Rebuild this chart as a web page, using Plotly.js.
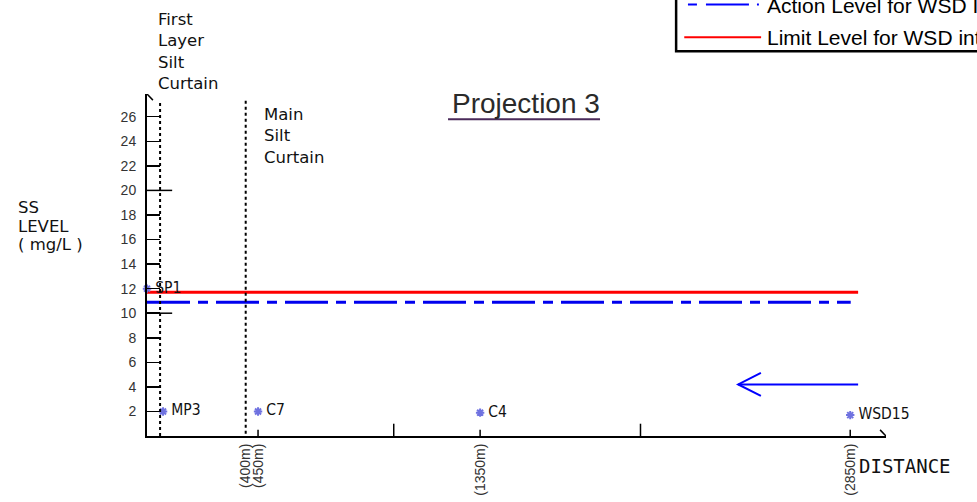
<!DOCTYPE html>
<html>
<head>
<meta charset="utf-8">
<script src="https://cdn.plot.ly/plotly-3.0.1.min.js"></script>
<style>html,body{margin:0;padding:0;background:#fff;}#chart{width:977px;height:502px;}</style>
</head>
<body>
<div id="chart"></div>
<script>
// ---- data ----
const stations = ['SP1', 'MP3', 'C7', 'C4', 'WSD15'];
const distance = [0, 65, 450, 1350, 2850];          // m
const ssLevel = [12.0, 2.0, 2.0, 1.9, 1.7];         // mg/L
const actionLevel = 10.9;                            // mg/L
const limitLevel = 11.7;                             // mg/L
const levelExtent = [0, 2882];                       // m
const xTickVals = [400, 450, 1350, 2850];
const xTickText = ['(400m)', '(450m)', '(1350m)', '(2850m)'];
const yTickVals = [2, 4, 6, 8, 10, 12, 14, 16, 18, 20, 22, 24, 26];
const majorXTicks = [1000, 2000];
const minorXTicks = [450, 1350, 2850];
const longYTicks = [10, 20];
const curtainNames = ['First<br>Layer<br>Silt<br>Curtain', 'Main<br>Silt<br>Curtain'];
const curtainPos = [53, 400];
const yTitleLines = ['SS', 'LEVEL', '( mg/L )'];
const flowArrow = [2882, 2396, 4.2];   // from, to, level

const XMAX = 2995, YMAX = 27.85;
const sans = 'Liberation Sans, Arial, sans-serif';
const narrow = 'Liberation Sans Narrow, DejaVu Sans Condensed, sans-serif';
const round = 'DejaVu Sans, Verdana, sans-serif';

const traces = [
  {x: levelExtent, y: [limitLevel, limitLevel], mode: 'lines', line: {color: '#ff0000', width: 3}, hoverinfo: 'skip', cliponaxis: false},
  {x: [levelExtent[0], levelExtent[1] - 30], y: [actionLevel, actionLevel], mode: 'lines', line: {color: '#0000ee', width: 3, dash: '43px,8px,10px,8px'}, hoverinfo: 'skip', cliponaxis: false},
  {x: distance, y: ssLevel, mode: 'markers+text', text: stations.map(s => '\u2009' + s), textposition: 'middle right',
   textfont: {family: narrow, size: 15.5, color: '#111'},
   marker: {symbol: 'asterisk-open', size: 7, color: '#6f72e0', line: {color: '#6f72e0', width: 2}}, cliponaxis: false}
];

const shapes = [];
// dotted curtain lines
curtainPos.forEach((p, i) => {
  shapes.push({type: 'line', xref: 'x', yref: 'y', x0: p, x1: p, y0: i === 0 ? 0 : -0.3, y1: 27.3,
    line: {color: '#000', width: 2, dash: 'dot'}});
});
// long y ticks
longYTicks.forEach(v => shapes.push({type: 'line', xref: 'x', yref: 'y', x0: 0, x1: 102, y0: v, y1: v, line: {color: '#000', width: 1.5}}));
// x tick marks
majorXTicks.forEach(v => shapes.push({type: 'line', xref: 'x', yref: 'y', x0: v, x1: v, y0: 0, y1: 1.0, line: {color: '#000', width: 1.5}}));
minorXTicks.forEach(v => shapes.push({type: 'line', xref: 'x', yref: 'y', x0: v, x1: v, y0: 0, y1: 0.5, line: {color: '#000', width: 1.5}}));
// axis arrowheads (open chevrons)
shapes.push({type: 'path', xref: 'x', yref: 'y', path: `M -24,${YMAX - 0.5} L 0,${YMAX} L 24,${YMAX - 0.5}`, line: {color: '#000', width: 1.5}});
shapes.push({type: 'path', xref: 'x', yref: 'y', path: `M ${XMAX - 24},0.5 L ${XMAX},0 L ${XMAX - 24},-0.5`, line: {color: '#000', width: 1.5}});
// flow arrow
shapes.push({type: 'line', xref: 'x', yref: 'y', x0: flowArrow[0], x1: flowArrow[1], y0: flowArrow[2], y1: flowArrow[2], line: {color: '#0000ff', width: 2}});
shapes.push({type: 'path', xref: 'x', yref: 'y', path: `M ${flowArrow[1] + 92},${flowArrow[2] + 0.94} L ${flowArrow[1]},${flowArrow[2]} L ${flowArrow[1] + 92},${flowArrow[2] - 0.94}`, line: {color: '#0000ff', width: 2}});
// title underline
shapes.push({type: 'line', xref: 'x', yref: 'y', x0: 1220, x1: 1836, y0: 25.8, y1: 25.8, line: {color: '#4a2a5a', width: 2}});
// legend box (cut off at the right/top, as in the drawing)
shapes.push({type: 'rect', xref: 'paper', yref: 'paper', x0: 0.716, x1: 1.3, y0: 1.125, y1: 1.5, line: {color: '#000', width: 2.5}, fillcolor: 'rgba(0,0,0,0)'});
shapes.push({type: 'line', xref: 'paper', yref: 'paper', x0: 0.727, x1: 0.831, y0: 1.166, y1: 1.166, line: {color: '#ff0000', width: 2}});
shapes.push({type: 'line', xref: 'paper', yref: 'paper', x0: 0.732, x1: 0.828, y0: 1.262, y1: 1.262, line: {color: '#0000ff', width: 2, dash: '9px,9px,43px,8px,2px,20px'}});

const annotations = [
  {xref: 'paper', yref: 'y', x: 0.513, y: 27.1, text: 'Projection 3', showarrow: false, font: {family: sans, size: 28, color: '#2a2a2a'}},
  {xref: 'paper', yref: 'paper', x: 0.0125, y: 1.1255, xanchor: 'left', yanchor: 'middle', align: 'left', text: curtainNames[0], showarrow: false, font: {family: round, size: 16.5, color: '#111'}},
  {xref: 'x', yref: 'y', x: 468, y: 24.4, xanchor: 'left', yanchor: 'middle', align: 'left', text: curtainNames[1], showarrow: false, font: {family: round, size: 16.5, color: '#111'}},
  {xref: 'paper', yref: 'paper', x: 0.961, y: -0.088, xanchor: 'left', yanchor: 'middle', text: 'DISTANCE', showarrow: false, font: {family: 'DejaVu Sans Mono, Liberation Mono, monospace', size: 19, color: '#111'}},
  {xref: 'paper', yref: 'paper', x: 0.836, y: 1.166, xanchor: 'left', yanchor: 'middle', text: 'Limit Level for WSD intakes', showarrow: false, font: {family: sans, size: 21, color: '#000'}},
  {xref: 'paper', yref: 'paper', x: 0.836, y: 1.258, xanchor: 'left', yanchor: 'middle', text: 'Action Level for WSD Intakes', showarrow: false, font: {family: sans, size: 21, color: '#000'}}
];
// y-axis title, one annotation per drawn line
const yTitleY = [208, 226.5, 245];
yTitleLines.forEach((t, i) => annotations.push({xref: 'paper', yref: 'paper', x: -0.177, y: (436.5 - yTitleY[i]) / 342.5,
  xanchor: 'left', yanchor: 'middle', text: t, showarrow: false, font: {family: round, size: 16.5, color: '#111'}}));

const layout = {
  width: 977, height: 502,
  margin: {l: 147, r: 91, t: 94, b: 65.5},
  paper_bgcolor: '#fff', plot_bgcolor: '#fff',
  showlegend: false,
  xaxis: {range: [0, XMAX], showgrid: false, zeroline: false, showline: true, linecolor: '#000', linewidth: 2,
    tickmode: 'array', tickvals: xTickVals, ticktext: xTickText, tickangle: -90, ticks: '',
    tickfont: {family: sans, size: 14, color: '#333'}, fixedrange: true},
  yaxis: {range: [0, YMAX], showgrid: false, zeroline: false, showline: true, linecolor: '#000', linewidth: 2,
    tickmode: 'array', tickvals: yTickVals, ticks: 'inside', ticklen: 13, tickwidth: 1.5, tickcolor: '#000',
    ticklabelstandoff: 6,
    tickfont: {family: sans, size: 14, color: '#333'}, fixedrange: true},
  shapes: shapes,
  annotations: annotations
};

Plotly.newPlot('chart', traces, layout, {staticPlot: true, displayModeBar: false});
</script>
</body>
</html>
